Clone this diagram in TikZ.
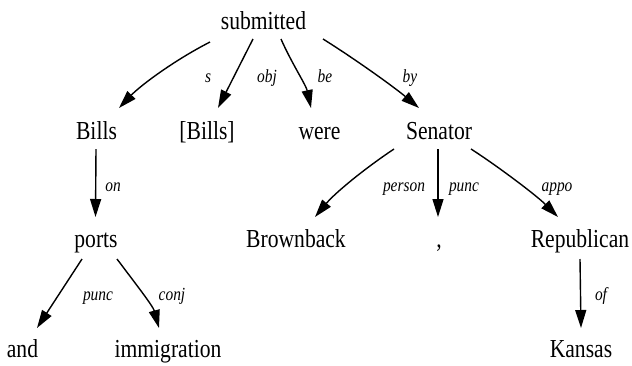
\documentclass[tikz,border=0pt]{standalone}
\usepackage{fontspec}
\setmainfont{Liberation Serif}
\usetikzlibrary{arrows.meta}
\newcommand{\tallw}[1]{\scalebox{1}[1.2]{#1}}
\begin{document}
\begin{tikzpicture}[x=1pt,y=-1pt,
  word/.style={anchor=base,inner sep=0pt,font=\fontsize{21.6}{24}\selectfont},
  lab/.style={anchor=base,inner sep=0pt,font=\fontsize{15.4}{17}\selectfont\itshape},
  arr/.style={line width=1.4pt,-{Triangle[length=18pt,width=11pt]}}]
\useasboundingbox (0,0) rectangle (632,365);
% nodes
\node[word] (sub) at (263.5,29) {\tallw{submitted}};
\node[word] (bills) at (96.5,139) {\tallw{Bills}};
\node[word] (bills2) at (207,139) {\tallw{[Bills]}};
\node[word] (were) at (319.5,139) {\tallw{were}};
\node[word] (sen) at (439,139) {\tallw{Senator}};
\node[word] (ports) at (96,247) {\tallw{ports}};
\node[word] (brown) at (296,247) {\tallw{Brownback}};
\node[word] (comma) at (439,247) {\tallw{,}};
\node[word] (rep) at (580,247) {\tallw{Republican}};
\node[word] (and) at (22.5,357) {\tallw{and}};
\node[word] (imm) at (168,357) {\tallw{immigration}};
\node[word] (kan) at (581,357) {\tallw{Kansas}};
% edge labels
\node[lab] (ls) at (208,82) {\tallw{s}};
\node[lab] (lobj) at (267,82) {\tallw{obj}};
\node[lab] (lbe) at (325,82) {\tallw{be}};
\node[lab] (lby) at (410,82) {\tallw{by}};
\node[lab] (lon) at (113,191) {\tallw{on}};
\node[lab] (lperson) at (404,191) {\tallw{person}};
\node[lab] (lpunc) at (464,191) {\tallw{punc}};
\node[lab] (lappo) at (557,191) {\tallw{appo}};
\node[lab] (lpunc2) at (98,300) {\tallw{punc}};
\node[lab] (lconj) at (172,300) {\tallw{conj}};
\node[lab] (lof) at (601,300) {\tallw{of}};
% edges
\draw[arr] ([shift={(-53.5,13)}]sub.base) .. controls +(-37,19) and +(21,-22) .. ([shift={(22.5,-31)}]bills.base);
\draw[arr] ([shift={(-10.5,10)}]sub.base) -- ([shift={(11,-31)}]bills2.base);
\draw[arr] ([shift={(17.5,10)}]sub.base) .. controls +(10,23) and +(-5,-23) .. ([shift={(-8.5,-31)}]were.base);
\draw[arr] ([shift={(59.5,10)}]sub.base) .. controls +(32,20) and +(-25,-21) .. ([shift={(-20,-31)}]sen.base);
\draw[arr] ([shift={(-0.5,10)}]bills.base) -- ([shift={(-0.5,-30)}]ports.base);
\draw[arr] ([shift={(-45,10)}]sen.base) .. controls +(-30,20) and +(20,-24) .. ([shift={(19,-30)}]brown.base);
\draw[arr] ([shift={(-1,10)}]sen.base) -- ([shift={(-1,-30)}]comma.base);
\draw[arr] ([shift={(32,10)}]sen.base) .. controls +(25,16) and +(-22,-22) .. ([shift={(-22,-30)}]rep.base);
\draw[arr] ([shift={(-14,12)}]ports.base) -- ([shift={(14.5,-29)}]and.base);
\draw[arr] ([shift={(21,12)}]ports.base) .. controls +(18,24) and +(-6,-22) .. ([shift={(-9,-29)}]imm.base);
\draw[arr] ([shift={(0,12)}]rep.base) -- ([shift={(0,-29)}]kan.base);
\end{tikzpicture}
\end{document}
